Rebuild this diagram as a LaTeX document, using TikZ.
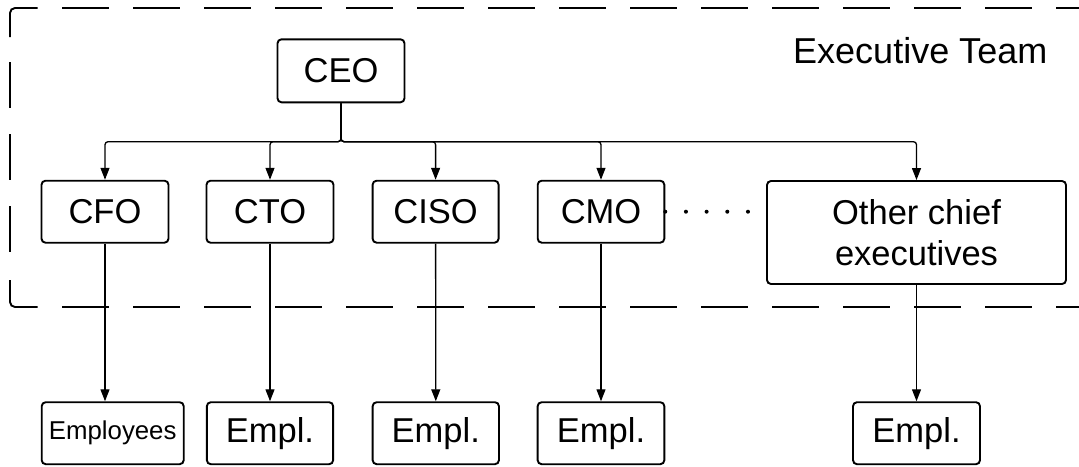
\documentclass[tikz,border=0pt]{standalone}
\usepackage{fontspec}
\setmainfont{Liberation Sans}
\usetikzlibrary{arrows.meta}
\begin{document}
\begin{tikzpicture}[x=1pt,y=-1pt,
  box/.style={draw,line width=1.9pt,rounded corners=4pt,inner sep=0pt,align=center,
    font=\fontsize{34.5}{40.5}\selectfont,minimum height=62pt},
  conn/.style={line width=1.3pt,-{Triangle[length=12pt,width=9pt]}},
  frame/.style={line width=1.9pt},
  framedash/.style={frame,dash pattern=on 47pt off 24pt}]
\clip (0,0) rectangle (1079,466);
\useasboundingbox (0,0) rectangle (1079,466);
% executive team frame (open on the right, beyond the picture)
\draw[frame,rounded corners=5pt] (37.7,8) -- (10,8) -- (10,37);
\draw[frame,rounded corners=5pt] (10,280) -- (10,307) -- (37.7,307);
\draw[frame,dash pattern=on 46pt off 26pt] (10,62) -- (10,253);
\draw[framedash] (62,8) -- (1100,8);
\draw[framedash] (62,307) -- (1100,307);
\node[anchor=base west,inner sep=0pt,font=\fontsize{36}{43}\selectfont] (team) at (793,63.3) {Executive Team};
% nodes
\node[box,minimum width=127pt,minimum height=63pt] (ceo) at (341,70.8) {CEO};
\node[box,minimum width=127pt] (cfo) at (105,211.7) {CFO};
\node[box,minimum width=127pt] (cto) at (270,211.7) {CTO};
\node[box,minimum width=126pt] (ciso) at (435.6,211.7) {CISO};
\node[box,minimum width=126.6pt] (cmo) at (601,211.7) {CMO};
\node[box,minimum width=299pt,minimum height=103pt] (oth) at (916.5,232.5) {Other chief\\executives};
\node[box,minimum width=142pt,font=\fontsize{25.8}{30}\selectfont] (e1) at (112.7,433.2) {Employees};
\node[box,minimum width=126.3pt] (e2) at (270,433.2) {Empl.};
\node[box,minimum width=126.3pt] (e3) at (435.8,433.2) {Empl.};
\node[box,minimum width=126.7pt] (e4) at (601,433.2) {Empl.};
\node[box,minimum width=127pt] (e5) at (916.5,433.2) {Empl.};
% bus from CEO
\foreach \c in {cfo,cto,ciso,cmo,oth}{
  \draw[conn,rounded corners=3pt] (ceo.south) -- (ceo.south |- 0,141.7) -| (\c.north);
}
% to employees
\draw[conn] (cfo.south) -- (cfo.south |- e1.north);
\draw[conn] (cto.south) -- (e2.north);
\draw[conn] (ciso.south) -- (e3.north);
\draw[conn] (cmo.south) -- (e4.north);
\draw[conn] (oth.south) -- (e5.north);
% dotted link
\draw[line width=4pt,line cap=round,dash pattern=on 0pt off 20.68pt] (cmo.east |- 0,211.7) -- (oth.west |- 0,211.7);
\end{tikzpicture}
\end{document}
